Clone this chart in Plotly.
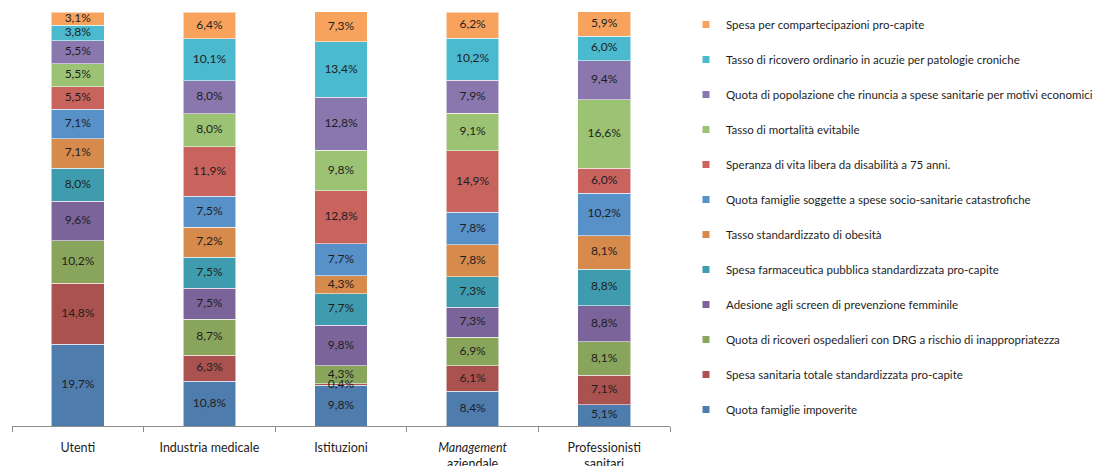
import plotly.graph_objects as go

categories = ["Utenti", "Industria medicale", "Istituzioni",
              "<i>Management</i><br>aziendale", "Professionisti<br>sanitari"]

series_names = [
    "Quota famiglie impoverite",
    "Spesa sanitaria totale standardizzata pro-capite",
    "Quota di ricoveri ospedalieri con DRG a rischio di inappropriatezza",
    "Adesione agli screen di prevenzione femminile",
    "Spesa farmaceutica pubblica standardizzata pro-capite",
    "Tasso standardizzato di obesità",
    "Quota famiglie soggette a spese socio-sanitarie catastrofiche",
    "Speranza di vita libera da disabilità a 75 anni.",
    "Tasso di mortalità evitabile",
    "Quota di popolazione che rinuncia a spese sanitarie per motivi economici",
    "Tasso di ricovero ordinario in acuzie per patologie croniche",
    "Spesa per compartecipazioni pro-capite",
]

quota_famiglie_impoverite = [19.7, 10.8, 9.8, 8.4, 5.1]
spesa_sanitaria_totale = [14.8, 6.3, 0.4, 6.1, 7.1]
ricoveri_drg = [10.2, 8.7, 4.3, 6.9, 8.1]
adesione_screen = [9.6, 7.5, 9.8, 7.3, 8.8]
spesa_farmaceutica = [8.0, 7.5, 7.7, 7.3, 8.8]
obesita = [7.1, 7.2, 4.3, 7.8, 8.1]
spese_catastrofiche = [7.1, 7.5, 7.7, 7.8, 10.2]
speranza_vita = [5.5, 11.9, 12.8, 14.9, 6.0]
mortalita_evitabile = [5.5, 8.0, 9.8, 9.1, 16.6]
rinuncia_spese = [5.5, 8.0, 12.8, 7.9, 9.4]
ricovero_acuzie = [3.8, 10.1, 13.4, 10.2, 6.0]
compartecipazioni = [3.1, 6.4, 7.3, 6.2, 5.9]

series_values = [
    quota_famiglie_impoverite, spesa_sanitaria_totale, ricoveri_drg,
    adesione_screen, spesa_farmaceutica, obesita, spese_catastrofiche,
    speranza_vita, mortalita_evitabile, rinuncia_spese, ricovero_acuzie,
    compartecipazioni,
]

colors = [
    "#4E7CAD", "#A9524F", "#89A55C", "#7A649A", "#3F9CAF", "#D68B4C",
    "#5890C8", "#C9635E", "#9CC274", "#8977AE", "#4BB9CE", "#F7A35E",
]

FONT = "Lato, 'Open Sans', sans-serif"

fig = go.Figure()

# stacked segments, bottom to top
for name, vals, col in zip(series_names, series_values, colors):
    fig.add_trace(go.Bar(
        x=categories, y=vals, name=name,
        marker=dict(color=col, line=dict(color="rgba(255,255,255,0.55)", width=1)),
        showlegend=False, hoverinfo="skip",
    ))

# value labels drawn above all segments, centred on each segment
label_x, label_y, label_text = [], [], []
base = [0.0] * len(categories)
for vals in series_values:
    for j, v in enumerate(vals):
        label_x.append(categories[j])
        label_y.append(base[j] + v / 2)
        label_text.append(f"{v:.1f}%".replace(".", ","))
        base[j] += v
fig.add_trace(go.Scatter(
    x=label_x, y=label_y, text=label_text, mode="text",
    textposition="middle center",
    textfont=dict(size=12, color="#1e1e1e", family=FONT),
    showlegend=False, hoverinfo="skip",
))

# legend swatches, listed top series first
for i, (name, col) in enumerate(zip(series_names[::-1], colors[::-1])):
    fig.add_trace(go.Scatter(
        x=[None], y=[None], mode="markers", name=name,
        marker=dict(symbol="square", size=7, color=col),
        legendgroup=f"g{i}", showlegend=True,
    ))

fig.update_layout(
    width=1101, height=466,
    barmode="stack", bargap=0.6,
    plot_bgcolor="white", paper_bgcolor="white",
    margin=dict(l=12, r=431, t=12, b=40, autoexpand=False),
    font=dict(family=FONT, size=12, color="#222222"),
    xaxis=dict(
        showline=True, linecolor="#8C8C8C", linewidth=1,
        ticks="outside", tickson="boundaries", ticklen=5, tickcolor="#8C8C8C",
        showgrid=False, automargin=False, ticklabelstandoff=10,
        tickfont=dict(size=12.5, color="#1e1e1e", family=FONT),
    ),
    yaxis=dict(range=[0, 100], visible=False, showgrid=False, automargin=False),
    legend=dict(
        x=(686 - 12) / 658, xref="paper", xanchor="left",
        y=1 - 10 / 466, yref="container", yanchor="top",
        maxheight=460,
        traceorder="grouped", tracegroupgap=16,
        font=dict(size=11.5, color="#1e1e1e", family=FONT),
        bgcolor="rgba(0,0,0,0)",
    ),
)

fig.write_html("out.html")
